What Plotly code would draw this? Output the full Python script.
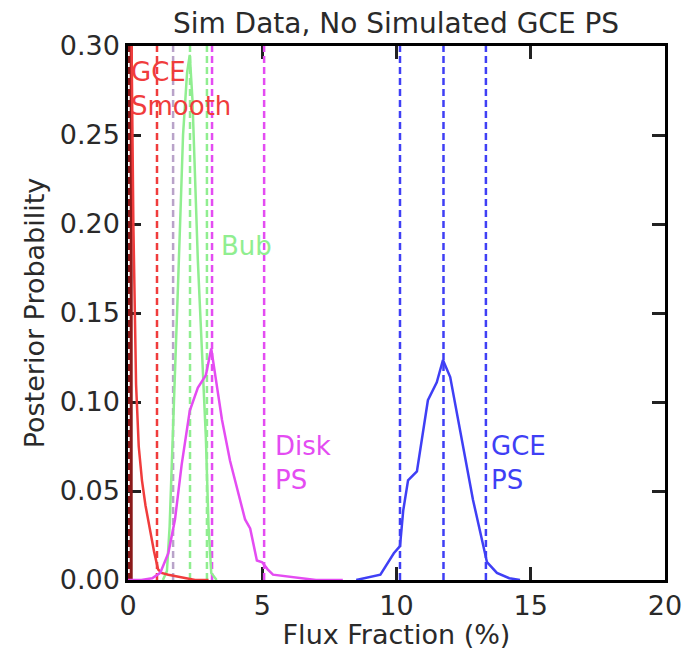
import plotly.graph_objects as go

# ---- data ----
red_x = [0.0, 0.1, 0.2, 0.3, 0.4, 0.52, 0.65, 0.82, 0.97, 1.12, 1.25, 1.5, 1.8, 2.1, 2.5, 3.0]
red_y = [0.6, 0.35, 0.2, 0.11, 0.075, 0.056, 0.042, 0.028, 0.016, 0.006, 0.004, 0.003, 0.002, 0.001, 0.0, 0.0]

green_x = [1.3, 1.45, 1.55, 1.65, 1.75, 1.85, 1.94, 2.05, 2.2, 2.3, 2.4, 2.5, 2.6, 2.75, 2.9, 3.0, 3.1, 3.3]
green_y = [0.0, 0.005, 0.03, 0.07, 0.112, 0.16, 0.2, 0.25, 0.285, 0.295, 0.27, 0.225, 0.18, 0.13, 0.08, 0.03, 0.004, 0.0]

mag_x = [0.0, 0.5, 0.9, 1.2, 1.5, 1.75, 2.0, 2.3, 2.6, 2.9, 3.1, 3.3, 3.5, 3.8, 4.1, 4.36, 4.55, 4.8, 5.0, 5.2, 5.4, 5.9, 6.5, 7.0, 8.0]
mag_y = [0.0, 0.0, 0.001, 0.004, 0.015, 0.034, 0.065, 0.095, 0.108, 0.115, 0.13, 0.11, 0.09, 0.067, 0.05, 0.034, 0.029, 0.011, 0.010, 0.006, 0.003, 0.002, 0.001, 0.0, 0.0]

blue_x = [8.5, 9.4, 9.9, 10.13, 10.25, 10.43, 10.76, 11.17, 11.5, 11.73, 12.0, 12.37, 12.85, 13.37, 13.74, 14.2, 14.6]
blue_y = [0.0, 0.003, 0.015, 0.019, 0.039, 0.056, 0.061, 0.101, 0.111, 0.1236, 0.114, 0.083, 0.045, 0.01, 0.004, 0.001, 0.0]

# vertical quantile lines
darkred_lines = [0.0]
red_lines = [1.08]
grey_lines = [1.68]
green_lines = [2.31, 2.94]
mag_lines = [3.13, 5.07]
blue_lines = [10.13, 11.75, 13.33]

x_ticks = [0, 5, 10, 15, 20]
y_ticks = [0.0, 0.05, 0.10, 0.15, 0.20, 0.25, 0.30]
y_tick_text = ["0.00", "0.05", "0.10", "0.15", "0.20", "0.25", "0.30"]

RED = "#f03c3c"
DARKRED = "#8b1a1a"
GREEN = "#90ee90"
MAG = "#e44cf2"
BLUE = "#3f3ff5"
GREY = "#b9a3c9"

fig = go.Figure()

def vlines(xs, color, dash="7px,4px", width=2.5):
    for v in xs:
        fig.add_trace(go.Scatter(x=[v, v], y=[0, 0.3], mode="lines",
                                 line=dict(color=color, width=width, dash=dash),
                                 showlegend=False, hoverinfo="skip"))

# dark red spike at zero
fig.add_trace(go.Scatter(x=[0.12, 0.12], y=[0, 0.3], mode="lines",
                         line=dict(color=DARKRED, width=3), showlegend=False))
vlines(darkred_lines, DARKRED, width=5)
vlines(red_lines, RED)
vlines(grey_lines, GREY)
vlines(green_lines, GREEN)
vlines(mag_lines, MAG)
vlines(blue_lines, BLUE)

for xs, ys, c in [(green_x, green_y, GREEN), (red_x, red_y, RED),
                  (mag_x, mag_y, MAG), (blue_x, blue_y, BLUE)]:
    fig.add_trace(go.Scatter(x=xs, y=ys, mode="lines",
                             line=dict(color=c, width=2.5), showlegend=False))

ann_font = dict(family="DejaVu Sans", size=26)
labels = [
    ("GCE<br>Smooth", 0.05, 0.295, RED),
    ("Bub", 3.4, 0.197, GREEN),
    ("Disk<br>PS", 5.4, 0.085, MAG),
    ("GCE<br>PS", 13.45, 0.085, BLUE),
]
for txt, x, y, c in labels:
    fig.add_annotation(x=x, y=y, xref="x", yref="y", text=txt, showarrow=False,
                       xanchor="left", yanchor="top", align="left",
                       font=dict(ann_font, color=c))

axis_common = dict(showline=True, linecolor="black", linewidth=2.5, mirror="allticks",
                   ticks="inside", ticklen=13, tickwidth=3, tickcolor="#222222",
                   showgrid=False, zeroline=False, automargin=False,
                   tickfont=dict(family="DejaVu Sans", size=27, color="#2a2a2a"),
                   layer="below traces")

fig.update_xaxes(range=[0, 20], tickvals=x_ticks, **axis_common,
                 title=dict(text="Flux Fraction (%)", standoff=4,
                            font=dict(family="DejaVu Sans", size=27, color="#2a2a2a")))
fig.update_yaxes(range=[0, 0.30], tickvals=y_ticks, ticktext=y_tick_text, **axis_common,
                 title=dict(text="Posterior Probability", standoff=8,
                            font=dict(family="DejaVu Sans", size=27, color="#2a2a2a")))

W, H = 684, 650
fig.update_layout(
    width=W, height=H,
    margin=dict(l=128, r=19, t=46, b=70),
    paper_bgcolor="white", plot_bgcolor="white",
    title=dict(text="Sim Data, No Simulated GCE PS", x=396 / W, xanchor="center",
               y=1 - 23 / H, yanchor="middle",
               font=dict(family="DejaVu Sans", size=28, color="#2a2a2a")),
    showlegend=False,
)

fig.write_html(
    "out.html",
    config={"displayModeBar": False},
    post_script="document.body.style.margin='0';document.documentElement.style.overflow='hidden';document.body.style.overflow='hidden';",
)
